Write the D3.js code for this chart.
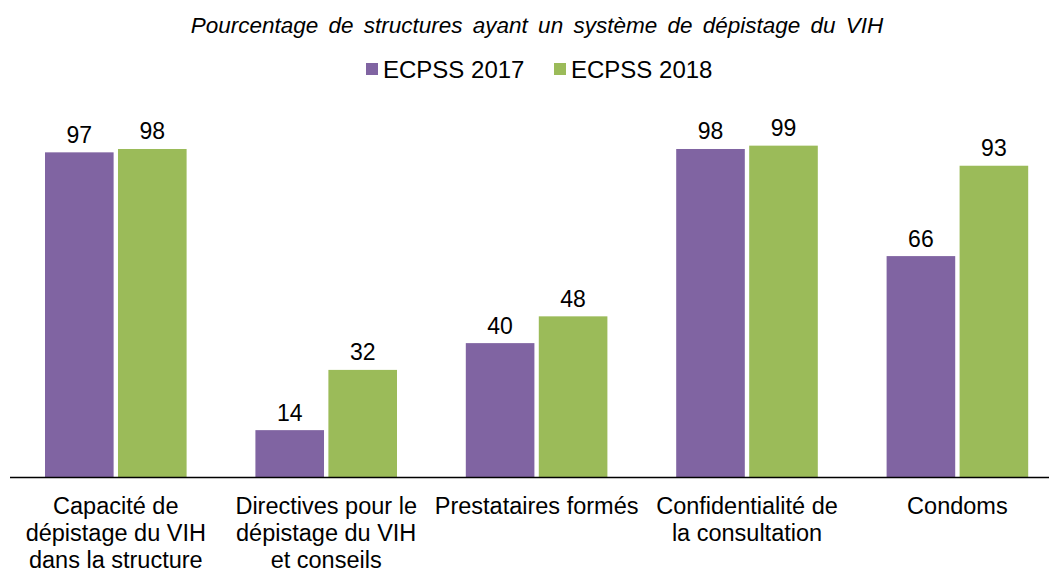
<!DOCTYPE html>
<html>
<head>
<meta charset="utf-8">
<script src="https://cdn.jsdelivr.net/npm/d3@7"></script>
<style>
  body { margin: 0; background: #fff; }
  svg { display: block; font-family: "Liberation Sans", Arial, sans-serif; }
</style>
</head>
<body>
<svg id="chart" width="1049" height="572"></svg>
<script>
const categories = [
  ["Capacité de", "dépistage du VIH", "dans la structure"],
  ["Directives pour le", "dépistage du VIH", "et conseils"],
  ["Prestataires formés"],
  ["Confidentialité de", "la consultation"],
  ["Condoms"]
];
const seriesNames = ["ECPSS 2017", "ECPSS 2018"];
const values2017 = [97, 14, 40, 98, 66];
const values2018 = [98, 32, 48, 99, 93];
const colors = ["#8064A2", "#9BBB59"];

const svg = d3.select("#chart");
const W = 1049;
const baseY = 477;
const x0 = d3.scaleBand().domain(d3.range(categories.length)).range([10.6, 1062.6]).paddingInner(0.327).paddingOuter(0.1635);
const x1 = d3.scaleBand().domain(d3.range(seriesNames.length)).range([0, x0.bandwidth()]).paddingInner(0.06);
const y = d3.scaleLinear().domain([0, 100]).range([baseY, baseY - 334.7]);

const series = [values2017, values2018];

// Title
svg.append("text")
  .attr("x", 537).attr("y", 33)
  .attr("text-anchor", "middle")
  .attr("font-size", 22.5)
  .attr("font-style", "italic")
  .attr("word-spacing", 4)
  .attr("fill", "#000")
  .text("Pourcentage de structures ayant un système de dépistage du VIH");

// Legend
const legend = svg.append("g");
const legendItems = [{x: 366, label: seriesNames[0]}, {x: 554, label: seriesNames[1]}];
legendItems.forEach((d, i) => {
  legend.append("rect").attr("x", d.x).attr("y", 63).attr("width", 12).attr("height", 12).attr("fill", colors[i]);
  legend.append("text").attr("x", d.x + 17).attr("y", 78)
    .attr("font-size", 24).attr("fill", "#000").text(d.label);
});

// Bars
const groups = svg.append("g").selectAll("g")
  .data(categories.map((c, i) => i))
  .join("g")
  .attr("transform", i => `translate(${x0(i)},0)`);

groups.selectAll("rect")
  .data(i => series.map((s, k) => ({k, v: s[i]})))
  .join("rect")
  .attr("x", d => x1(d.k))
  .attr("width", x1.bandwidth())
  .attr("y", d => y(d.v))
  .attr("height", d => baseY - y(d.v))
  .attr("fill", d => colors[d.k]);

groups.selectAll("text.val")
  .data(i => series.map((s, k) => ({k, v: s[i]})))
  .join("text")
  .attr("class", "val")
  .attr("x", d => x1(d.k) + x1.bandwidth() / 2)
  .attr("y", d => y(d.v) - 9.5)
  .attr("text-anchor", "middle")
  .attr("font-size", 23)
  .attr("fill", "#000")
  .text(d => d.v);

// Baseline axis
svg.append("line")
  .attr("x1", 10).attr("x2", W)
  .attr("y1", baseY + 0.5).attr("y2", baseY + 0.5)
  .attr("stroke", "#000").attr("stroke-width", 1.3);

// Category labels
categories.forEach((lines, i) => {
  const cx = x0(i) + x0.bandwidth() / 2;
  const t = svg.append("text")
    .attr("text-anchor", "middle")
    .attr("font-size", 23.5)
    .attr("fill", "#000");
  lines.forEach((ln, j) => {
    t.append("tspan").attr("x", cx).attr("y", 514 + j * 27).text(ln);
  });
});
</script>
</body>
</html>
